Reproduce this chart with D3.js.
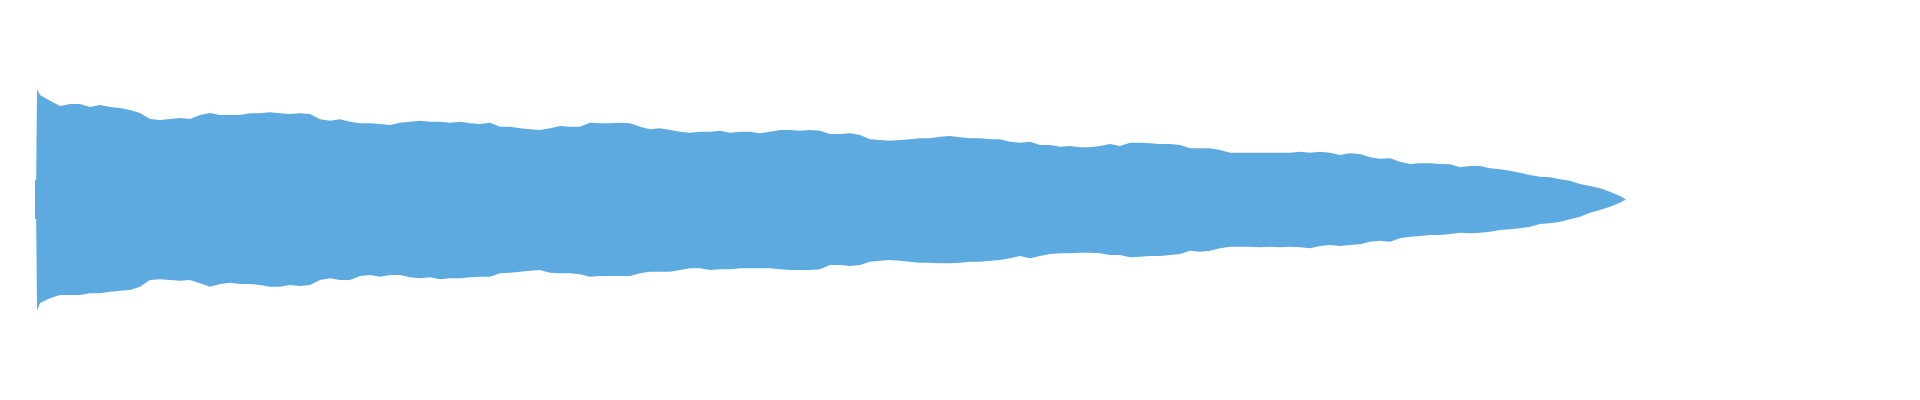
<!DOCTYPE html>
<html>
<head>
<meta charset="utf-8">
<script src="https://cdn.jsdelivr.net/npm/d3@7"></script>
<style>
  html, body { margin: 0; padding: 0; background: #ffffff; }
  svg { display: block; }
</style>
</head>
<body>
<svg id="chart" width="1920" height="400"></svg>
<script>
// ---- data (amplitude in % of full scale, time in seconds) ----
const duration = 15.91;
const onsetTime = [0, 0.012, 0.02];
const onsetMax = [17.5, 17.5, 98.7];
const onsetMin = [-17.5, -17.5, -99.6];
const peakStart = 0.05;
const peakStep = 0.1;
const maxPeaks = [
  93.7, 88.6, 83.9, 85.7, 85.7, 83.0, 84.8, 83.0, 82.1, 80.3,
  77.6, 72.2, 71.3, 72.2, 73.1, 72.2, 75.8, 77.6, 75.8, 75.8,
  75.8, 77.3, 77.3, 78.2, 77.3, 76.7, 77.3, 76.7, 71.9, 70.7,
  71.9, 69.8, 68.3, 68.3, 67.7, 66.8, 68.9, 69.8, 70.7, 69.8,
  69.8, 68.9, 69.8, 68.3, 67.7, 68.9, 65.3, 65.3, 63.9, 63.0,
  62.3, 63.9, 65.9, 65.3, 65.3, 68.9, 68.3, 68.3, 68.9, 68.3,
  65.3, 63.0, 63.9, 62.3, 60.8, 59.9, 60.8, 60.8, 61.7, 59.9,
  60.8, 60.8, 59.4, 60.8, 62.3, 62.3, 61.7, 62.3, 61.7, 58.7,
  58.7, 59.4, 57.8, 54.0, 53.4, 52.7, 53.4, 54.0, 54.9, 54.9,
  56.3, 57.0, 55.8, 54.9, 54.9, 54.0, 54.0, 51.8, 50.9, 51.8,
  48.9, 48.9, 47.4, 48.0, 46.8, 46.8, 48.0, 49.8, 48.0, 50.9,
  50.9, 50.4, 49.8, 49.8, 48.9, 45.9, 45.9, 45.9, 44.4, 42.0,
  42.0, 42.0, 42.0, 42.0, 42.0, 42.0, 42.9, 42.0, 42.9, 42.0,
  39.9, 41.4, 40.8, 37.8, 36.6, 37.0, 33.9, 31.8, 32.5, 32.5,
  31.8, 31.6, 28.9, 30.0, 30.0, 28.0, 27.1, 25.8, 24.0, 22.0,
  20.4, 19.9, 18.1, 16.9, 13.9, 12.1, 10.0, 7.0, 3.1
];
const minPeaks = [
  -92.8, -88.6, -85.7, -85.7, -85.7, -84.1, -84.1, -82.7, -81.8, -81.2,
  -78.2, -72.2, -71.6, -72.2, -72.8, -72.2, -75.2, -78.2, -75.8, -74.6,
  -75.8, -75.8, -76.7, -78.2, -78.2, -76.7, -77.6, -76.7, -72.2, -70.7,
  -72.2, -72.2, -68.6, -67.7, -69.2, -67.7, -67.7, -69.8, -70.7, -69.8,
  -71.6, -70.7, -70.7, -69.8, -69.2, -69.2, -66.2, -65.7, -64.8, -63.9,
  -63.2, -65.7, -66.2, -66.2, -67.1, -69.2, -68.6, -68.6, -68.6, -68.6,
  -66.2, -64.8, -64.8, -64.8, -63.2, -61.7, -61.7, -63.2, -62.6, -62.6,
  -61.7, -61.7, -61.7, -61.7, -62.6, -63.2, -63.2, -63.2, -62.6, -58.7,
  -58.7, -59.6, -58.7, -55.8, -54.9, -54.3, -54.9, -55.8, -56.7, -56.7,
  -57.2, -57.2, -56.7, -55.8, -55.8, -54.9, -54.3, -52.7, -50.7, -52.7,
  -50.7, -48.9, -48.3, -48.3, -47.7, -47.7, -48.3, -49.8, -49.8, -51.8,
  -51.3, -50.7, -50.7, -49.8, -48.9, -45.9, -46.8, -45.9, -43.8, -42.3,
  -42.3, -42.3, -42.9, -42.3, -42.9, -42.3, -42.9, -43.8, -41.7, -40.8,
  -41.7, -40.8, -40.2, -37.8, -37.0, -37.8, -34.8, -33.4, -32.7, -31.8,
  -31.8, -30.9, -29.8, -30.3, -29.8, -28.9, -27.4, -26.7, -25.8, -24.4,
  -22.0, -21.3, -19.9, -17.8, -15.4, -11.8, -9.4, -6.5, -2.9
];
const endMax = 0;
const endMin = 0;
const waveColor = "#5DAAE0";

// ---- build table ----
const table = [];
onsetTime.forEach((t, i) => table.push({ t, hi: onsetMax[i], lo: onsetMin[i] }));
maxPeaks.forEach((v, i) => table.push({ t: peakStart + i * peakStep, hi: v, lo: minPeaks[i] }));
table.push({ t: duration, hi: endMax, lo: endMin });

// ---- draw ----
const svg = d3.select("#chart");
const x = d3.scaleLinear().domain([0, duration]).range([35, 1626]);
const y = d3.scaleLinear().domain([-100, 100]).range([311, 88]);

const area = d3.area()
  .x(d => x(d.t))
  .y0(d => y(d.lo))
  .y1(d => y(d.hi))
  .curve(d3.curveLinear);

svg.append("path")
  .datum(table)
  .attr("fill", waveColor)
  .attr("d", area);
</script>
</body>
</html>
